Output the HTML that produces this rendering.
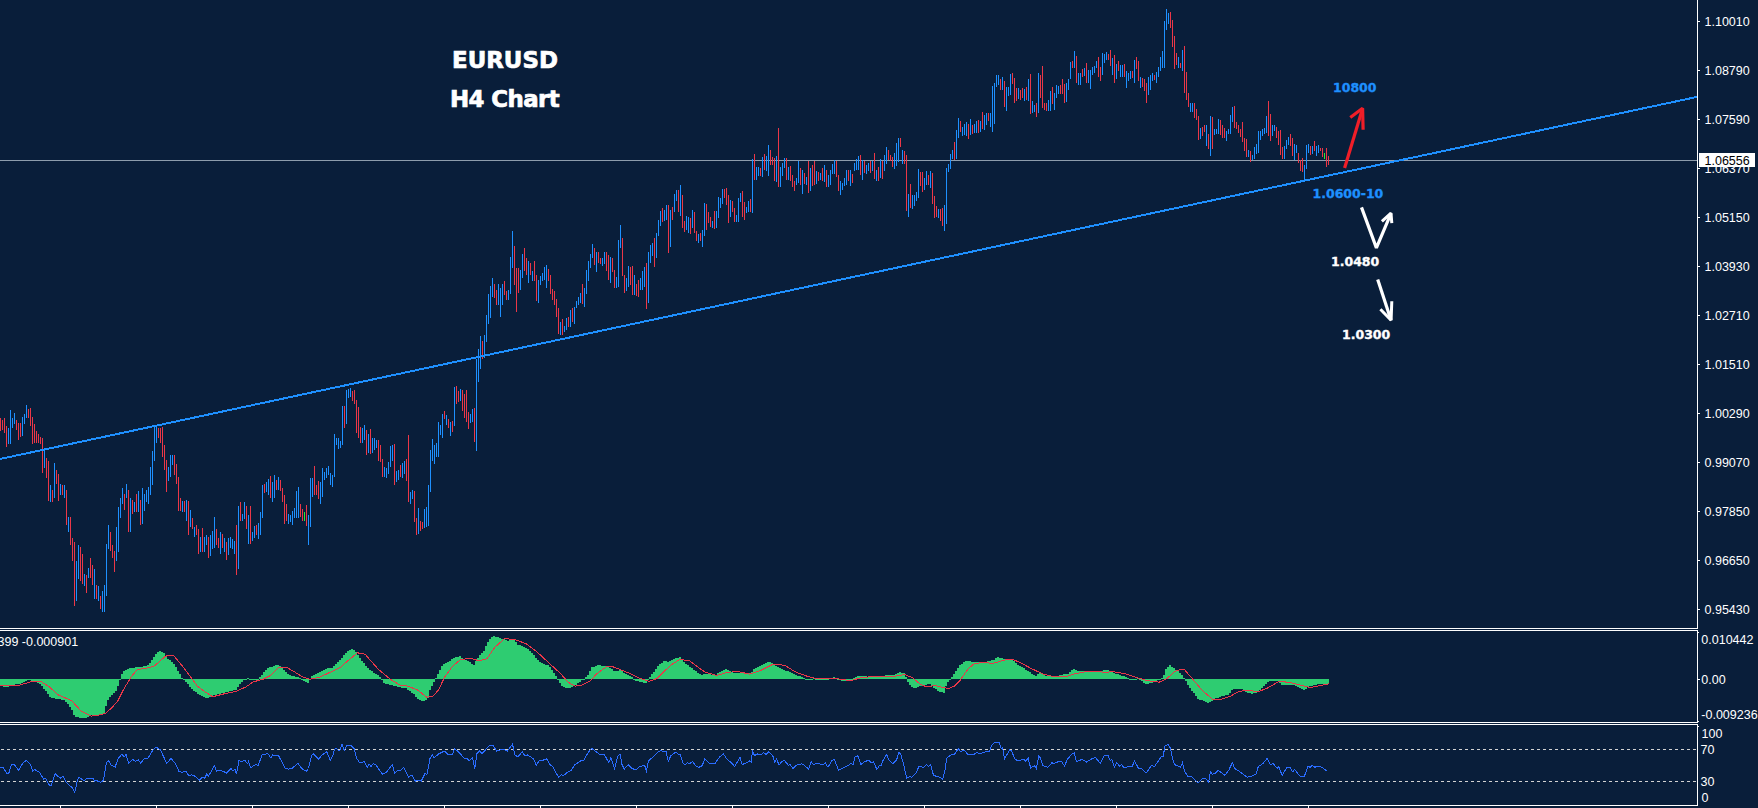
<!DOCTYPE html><html><head><meta charset="utf-8"><title>EURUSD H4 Chart</title><style>
html,body{margin:0;padding:0;background:#091E3A;}
#c{position:relative;width:1758px;height:808px;overflow:hidden;background:#091E3A;}
.a{position:absolute;font-family:"Liberation Sans",sans-serif;font-size:12.5px;line-height:14px;height:14px;color:#FFFFFF;white-space:nowrap;}
.k{color:#000;}
.t{position:absolute;font-family:"DejaVu Sans","Liberation Sans",sans-serif;font-weight:bold;white-space:nowrap;color:#fff;}
.t1{font-size:22.9px;line-height:28px;-webkit-text-stroke:0.7px currentColor;}
.t2{font-size:12.5px;line-height:14px;-webkit-text-stroke:0.35px currentColor;}

</style></head><body><div id="c">
<svg width="1758" height="808" viewBox="0 0 1758 808" style="position:absolute;left:0;top:0">
<rect width="1758" height="808" fill="#091E3A"/>
<g shape-rendering="crispEdges">
<path d="M0 160.5H1697" stroke="#8E9DAD" stroke-width="1" fill="none"/>
<path d="M8.5 428v16M10.5 410v34M12.5 418v10M14.5 413v11M22.5 417v19M24.5 414v10M26.5 405v13M44.5 450v18M50.5 485v17M54.5 463v35M60.5 484v11M64.5 485v13M68.5 517v15M76.5 561v40M78.5 545v34M84.5 574v12M88.5 568v10M94.5 569v30M98.5 586v15M102.5 591v21M104.5 585v27M106.5 544v52M108.5 525v24M116.5 527v34M118.5 507v45M120.5 498v20M122.5 488v16M126.5 484v14M130.5 498v34M134.5 502v10M138.5 491v21M142.5 488v36M144.5 494v17M146.5 490v12M148.5 487v17M150.5 467v28M152.5 451v34M154.5 427v34M156.5 426v17M168.5 467v14M170.5 455v22M172.5 455v10M182.5 501v11M186.5 500v21M190.5 510v17M194.5 527v10M200.5 537v15M204.5 537v15M206.5 535v10M210.5 535v21M212.5 531v18M214.5 517v31M220.5 532v22M224.5 538v14M228.5 538v17M230.5 537v11M232.5 539v10M234.5 541v13M238.5 506v63M242.5 514v7M244.5 502v17M248.5 515v29M252.5 532v9M254.5 526v12M258.5 523v16M260.5 512v23M262.5 485v33M266.5 482v10M268.5 479v16M272.5 482v20M274.5 475v23M278.5 477v13M288.5 514v10M290.5 515v7M292.5 511v14M294.5 508v10M296.5 491v27M298.5 487v31M308.5 515v30M310.5 478v49M312.5 478v19M320.5 482v22M322.5 468v29M324.5 472v8M326.5 468v10M328.5 466v9M330.5 473v12M332.5 475v12M334.5 434v43M336.5 438v7M338.5 438v11M340.5 441v7M342.5 406v39M346.5 390v34M348.5 389v9M350.5 388v9M362.5 428v15M364.5 425v15M368.5 434v19M372.5 438v15M374.5 438v12M376.5 440v8M384.5 467v10M386.5 468v10M388.5 462v12M390.5 446v21M392.5 445v16M396.5 471v11M398.5 470v10M402.5 463v15M404.5 461v13M410.5 492v12M412.5 490v9M418.5 508v26M424.5 509v19M426.5 507v20M428.5 485v41M430.5 450v42M432.5 439v22M434.5 445v19M436.5 443v14M438.5 422v35M440.5 425v10M442.5 414v24M446.5 415v10M450.5 422v14M454.5 387v39M460.5 389v12M470.5 414v9M472.5 409v13M476.5 359v92M478.5 349v33M480.5 336v33M484.5 335v23M486.5 315v27M488.5 294v30M490.5 286v32M492.5 278v19M498.5 284v21M500.5 288v29M502.5 284v21M508.5 290v10M510.5 257v37M512.5 231v37M520.5 270v20M522.5 254v24M528.5 261v22M532.5 271v10M538.5 280v23M540.5 276v9M542.5 273v8M544.5 267v13M546.5 265v23M560.5 322v13M564.5 326v6M566.5 318v12M570.5 310v17M574.5 307v17M576.5 301v7M578.5 297v8M580.5 293v10M584.5 288v19M586.5 270v24M588.5 261v20M590.5 254v14M592.5 244v14M596.5 252v20M602.5 258v8M604.5 252v12M610.5 257v26M616.5 277v11M618.5 240v47M620.5 225v23M626.5 278v13M628.5 266v21M634.5 275v20M640.5 278v12M642.5 271v19M644.5 267v20M648.5 252v51M650.5 245v18M652.5 243v13M656.5 233v25M658.5 220v16M660.5 211v15M664.5 210v11M666.5 205v15M670.5 210v37M674.5 194v18M676.5 190v11M680.5 185v31M686.5 216v14M688.5 217v16M692.5 210v18M698.5 234v9M702.5 230v17M704.5 203v33M712.5 221v7M716.5 211v17M718.5 197v21M720.5 198v10M722.5 189v15M730.5 200v17M736.5 215v7M738.5 198v24M740.5 193v9M746.5 207v6M748.5 201v11M752.5 159v54M756.5 167v13M758.5 167v9M762.5 157v20M766.5 156v15M768.5 145v31M776.5 156v26M780.5 167v20M782.5 163v13M784.5 158v10M788.5 167v13M796.5 178v7M798.5 161v22M802.5 170v24M806.5 177v8M810.5 168v23M816.5 171v13M820.5 173v7M824.5 165v17M828.5 175v12M830.5 170v15M832.5 164v10M834.5 160v14M840.5 181v14M842.5 183v7M844.5 178v8M846.5 170v15M850.5 170v16M854.5 163v8M856.5 159v11M858.5 156v14M862.5 160v20M866.5 165v9M868.5 163v8M872.5 161v10M876.5 170v11M880.5 159v19M884.5 155v16M886.5 147v17M894.5 153v16M896.5 143v23M898.5 138v24M902.5 150v14M908.5 194v23M912.5 195v14M914.5 195v11M916.5 192v9M918.5 169v29M924.5 178v12M926.5 171v14M930.5 171v17M938.5 209v9M944.5 205v26M946.5 168v56M948.5 164v8M950.5 154v15M952.5 150v9M956.5 130v29M958.5 118v20M962.5 127v9M964.5 124v11M966.5 122v14M970.5 119v16M974.5 124v9M976.5 121v12M980.5 121v11M984.5 115v15M986.5 113v12M990.5 113v14M992.5 86v46M994.5 83v41M996.5 75v12M998.5 75v10M1002.5 77v13M1006.5 87v24M1008.5 87v9M1010.5 74v21M1018.5 88v11M1024.5 89v12M1028.5 79v22M1032.5 101v12M1034.5 105v7M1038.5 73v40M1048.5 100v11M1050.5 91v20M1054.5 93v17M1056.5 85v13M1058.5 86v8M1066.5 83v19M1068.5 79v11M1070.5 62v17M1074.5 51v17M1078.5 73v12M1080.5 73v12M1084.5 68v8M1088.5 70v13M1090.5 70v19M1092.5 67v8M1094.5 66v7M1096.5 61v7M1102.5 53v22M1104.5 54v9M1106.5 52v8M1112.5 58v17M1116.5 64v15M1120.5 65v12M1122.5 65v12M1126.5 71v17M1128.5 73v8M1130.5 71v8M1134.5 60v23M1140.5 77v11M1148.5 77v18M1150.5 75v15M1152.5 73v8M1156.5 72v11M1158.5 67v10M1160.5 57v14M1162.5 51v17M1164.5 21v47M1166.5 9v21M1168.5 13v11M1178.5 57v11M1182.5 50v21M1190.5 103v9M1192.5 103v9M1200.5 128v11M1206.5 125v21M1210.5 116v40M1214.5 129v6M1216.5 129v5M1218.5 119v15M1226.5 131v10M1228.5 129v5M1230.5 115v19M1232.5 107v15M1248.5 150v7M1252.5 155v5M1254.5 147v12M1256.5 144v10M1258.5 131v22M1260.5 131v9M1262.5 129v7M1264.5 128v6M1266.5 116v17M1272.5 125v11M1274.5 125v6M1284.5 146v13M1286.5 140v9M1288.5 137v8M1294.5 144v16M1296.5 145v8M1304.5 165v15M1306.5 145v24M1308.5 144v9M1312.5 146v8M1316.5 146v10M1318.5 145v8" stroke="#1E90FF" stroke-width="1" fill="none"/>
<path d="M0.5 418v13M2.5 420v10M4.5 418v15M6.5 426v21M16.5 420v10M18.5 423v17M20.5 423v14M28.5 409v9M30.5 408v18M32.5 417v27M34.5 424v19M36.5 431v12M38.5 434v9M40.5 437v7M42.5 438v35M46.5 458v20M48.5 461v40M52.5 490v12M56.5 470v14M58.5 474v27M62.5 485v10M66.5 490v35M70.5 517v28M72.5 538v23M74.5 542v64M80.5 547v34M82.5 554v30M86.5 575v18M90.5 558v20M92.5 565v20M96.5 585v14M100.5 596v13M110.5 532v19M112.5 545v13M114.5 551v21M124.5 494v16M128.5 490v42M132.5 500v14M136.5 494v18M140.5 500v25M158.5 428v10M160.5 428v15M162.5 427v30M164.5 445v25M166.5 460v32M174.5 455v20M176.5 464v20M178.5 477v34M180.5 498v13M184.5 501v11M188.5 501v34M192.5 518v11M196.5 525v10M198.5 529v25M202.5 528v24M208.5 537v21M216.5 529v16M218.5 538v10M222.5 534v14M226.5 542v18M236.5 525v50M240.5 502v19M246.5 506v23M250.5 506v38M256.5 525v10M264.5 484v9M270.5 476v22M276.5 480v10M280.5 480v11M282.5 488v14M284.5 495v29M286.5 504v17M300.5 504v13M302.5 509v12M306.5 505v21M314.5 466v29M316.5 485v10M318.5 481v18M344.5 406v22M352.5 391v10M354.5 390v14M356.5 400v33M358.5 407v31M360.5 427v16M366.5 430v25M370.5 429v25M378.5 440v21M380.5 445v17M382.5 459v18M394.5 444v41M400.5 465v12M406.5 459v22M408.5 435v67M414.5 491v31M416.5 518v17M420.5 521v10M422.5 522v7M444.5 411v8M448.5 419v9M452.5 421v11M456.5 386v18M458.5 391v11M462.5 390v21M464.5 394v24M466.5 390v32M468.5 412v17M474.5 408v34M482.5 341v18M494.5 284v14M496.5 290v15M504.5 281v14M506.5 291v9M514.5 246v39M516.5 268v44M518.5 268v25M524.5 248v23M526.5 258v17M530.5 263v12M534.5 261v20M536.5 275v26M548.5 269v12M550.5 275v19M552.5 289v11M554.5 291v14M556.5 299v18M558.5 308v26M562.5 319v16M568.5 317v10M572.5 308v14M582.5 284v20M594.5 248v17M598.5 252v11M600.5 258v6M606.5 252v19M608.5 255v25M612.5 258v14M614.5 270v18M622.5 238v38M624.5 275v18M630.5 267v18M632.5 266v29M636.5 284v12M638.5 280v17M646.5 263v46M654.5 238v29M662.5 208v14M668.5 205v48M672.5 207v13M678.5 190v22M682.5 195v33M684.5 221v11M690.5 218v16M694.5 212v21M696.5 231v10M700.5 233v8M706.5 204v26M708.5 212v11M710.5 217v10M714.5 211v18M724.5 189v9M726.5 188v17M728.5 195v28M732.5 201v11M734.5 208v14M742.5 191v26M744.5 202v18M750.5 199v13M754.5 154v26M760.5 168v8M764.5 154v16M770.5 150v15M772.5 157v8M774.5 158v23M778.5 128v59M786.5 158v22M790.5 166v15M792.5 175v12M794.5 181v10M800.5 168v17M804.5 173v11M808.5 161v32M812.5 165v21M814.5 161v24M818.5 172v9M822.5 168v13M826.5 170v17M836.5 161v16M838.5 175v16M848.5 170v11M852.5 174v9M860.5 155v20M864.5 161v12M870.5 161v12M874.5 153v26M878.5 167v14M882.5 161v18M888.5 150v10M890.5 155v6M892.5 157v10M900.5 138v9M904.5 151v13M906.5 155v56M910.5 184v24M920.5 172v14M922.5 172v20M928.5 175v10M932.5 173v31M934.5 196v22M936.5 206v11M940.5 209v12M942.5 208v18M954.5 142v18M960.5 121v11M968.5 124v15M972.5 125v9M978.5 120v13M982.5 112v17M988.5 113v8M1000.5 79v11M1004.5 81v26M1012.5 73v11M1014.5 78v25M1016.5 88v13M1020.5 90v10M1022.5 88v10M1026.5 87v13M1030.5 74v40M1036.5 103v14M1040.5 75v23M1042.5 66v42M1044.5 103v7M1046.5 103v8M1052.5 87v17M1060.5 85v9M1062.5 79v15M1064.5 84v19M1072.5 61v7M1076.5 56v27M1082.5 69v8M1086.5 63v20M1098.5 57v20M1100.5 67v14M1108.5 54v6M1110.5 50v16M1114.5 55v28M1118.5 61v10M1124.5 64v13M1132.5 71v7M1136.5 57v12M1138.5 61v20M1142.5 78v9M1144.5 79v12M1146.5 83v20M1154.5 75v5M1170.5 12v16M1172.5 20v27M1174.5 36v33M1176.5 53v12M1180.5 63v5M1184.5 46v47M1186.5 72v28M1188.5 93v14M1194.5 103v15M1196.5 109v11M1198.5 116v24M1202.5 127v9M1204.5 125v7M1208.5 134v15M1212.5 117v32M1220.5 120v15M1222.5 125v13M1224.5 128v10M1234.5 106v22M1236.5 122v7M1238.5 125v8M1240.5 129v8M1242.5 122v20M1244.5 138v13M1246.5 139v18M1250.5 151v11M1268.5 101v35M1270.5 114v27M1276.5 127v11M1278.5 131v14M1280.5 130v25M1282.5 147v12M1290.5 134v12M1292.5 138v18M1298.5 153v10M1300.5 160v11M1302.5 158v14M1310.5 146v9M1314.5 141v10M1320.5 148v3M1322.5 148v9M1326.5 148v19M1328.5 156v9" stroke="#EB3748" stroke-width="1" fill="none"/>
<path d="M304.5 512v9M1324.5 153v6" stroke="#32E632" stroke-width="1" fill="none"/>
<path d="M0 459L1697 96.9" stroke="#1E90FF" stroke-width="2" fill="none"/>
<path d="M-1 679h2v7h-2zM1 679h2v7h-2zM3 679h2v8h-2zM5 679h2v8h-2zM7 679h2v8h-2zM9 679h2v6h-2zM11 679h2v6h-2zM13 679h2v6h-2zM15 679h2v5h-2zM17 679h2v5h-2zM19 679h2v5h-2zM21 679h2v4h-2zM23 679h2v3h-2zM25 679h2v2h-2zM27 679h2v1h-2zM29 679h2v1h-2zM31 679h2v2h-2zM33 679h2v3h-2zM35 679h2v3h-2zM37 679h2v4h-2zM39 679h2v5h-2zM41 679h2v7h-2zM43 679h2v10h-2zM45 679h2v12h-2zM47 679h2v15h-2zM49 679h2v18h-2zM51 679h2v19h-2zM53 679h2v19h-2zM55 679h2v20h-2zM57 679h2v20h-2zM59 679h2v20h-2zM61 679h2v21h-2zM63 679h2v21h-2zM65 679h2v23h-2zM67 679h2v25h-2zM69 679h2v28h-2zM71 679h2v31h-2zM73 679h2v36h-2zM75 679h2v38h-2zM77 679h2v38h-2zM79 679h2v39h-2zM81 679h2v39h-2zM83 679h2v39h-2zM85 679h2v39h-2zM87 679h2v38h-2zM89 679h2v37h-2zM91 679h2v36h-2zM93 679h2v36h-2zM95 679h2v36h-2zM97 679h2v36h-2zM99 679h2v35h-2zM101 679h2v35h-2zM103 679h2v34h-2zM105 679h2v27h-2zM107 679h2v21h-2zM109 679h2v18h-2zM111 679h2v16h-2zM113 679h2v14h-2zM115 679h2v12h-2zM117 679h2v7h-2zM119 679h2v1h-2zM121 674h2v5h-2zM123 671h2v8h-2zM125 670h2v9h-2zM127 669h2v10h-2zM129 668h2v11h-2zM131 668h2v11h-2zM133 668h2v11h-2zM135 667h2v12h-2zM137 667h2v12h-2zM139 667h2v12h-2zM141 667h2v12h-2zM143 666h2v13h-2zM145 666h2v13h-2zM147 665h2v14h-2zM149 663h2v16h-2zM151 660h2v19h-2zM153 657h2v22h-2zM155 654h2v25h-2zM157 652h2v27h-2zM159 651h2v28h-2zM161 652h2v27h-2zM163 653h2v26h-2zM165 656h2v23h-2zM167 659h2v20h-2zM169 660h2v19h-2zM171 662h2v17h-2zM173 664h2v15h-2zM175 667h2v12h-2zM177 671h2v8h-2zM179 674h2v5h-2zM181 678h2v1h-2zM183 679h2v1h-2zM185 679h2v3h-2zM187 679h2v5h-2zM189 679h2v8h-2zM191 679h2v10h-2zM193 679h2v12h-2zM195 679h2v13h-2zM197 679h2v15h-2zM199 679h2v16h-2zM201 679h2v17h-2zM203 679h2v18h-2zM205 679h2v19h-2zM207 679h2v19h-2zM209 679h2v18h-2zM211 679h2v17h-2zM213 679h2v16h-2zM215 679h2v16h-2zM217 679h2v15h-2zM219 679h2v15h-2zM221 679h2v14h-2zM223 679h2v14h-2zM225 679h2v13h-2zM227 679h2v13h-2zM229 679h2v12h-2zM231 679h2v12h-2zM233 679h2v11h-2zM235 679h2v11h-2zM237 679h2v8h-2zM239 679h2v5h-2zM241 679h2v3h-2zM243 679h2v1h-2zM245 679h2v1h-2zM247 678h2v1h-2zM249 679h2v1h-2zM251 679h2v1h-2zM253 679h2v1h-2zM255 679h2v1h-2zM257 679h2v1h-2zM259 677h2v2h-2zM261 675h2v4h-2zM263 672h2v7h-2zM265 670h2v9h-2zM267 668h2v11h-2zM269 667h2v12h-2zM271 667h2v12h-2zM273 666h2v13h-2zM275 665h2v14h-2zM277 665h2v14h-2zM279 666h2v13h-2zM281 668h2v11h-2zM283 670h2v9h-2zM285 672h2v7h-2zM287 674h2v5h-2zM289 675h2v4h-2zM291 676h2v3h-2zM293 676h2v3h-2zM295 677h2v2h-2zM297 677h2v2h-2zM299 678h2v1h-2zM301 679h2v1h-2zM303 679h2v2h-2zM305 679h2v3h-2zM307 679h2v4h-2zM309 679h2v1h-2zM311 676h2v3h-2zM313 675h2v4h-2zM315 674h2v5h-2zM317 673h2v6h-2zM319 672h2v7h-2zM321 671h2v8h-2zM323 670h2v9h-2zM325 669h2v10h-2zM327 668h2v11h-2zM329 668h2v11h-2zM331 668h2v11h-2zM333 666h2v13h-2zM335 664h2v15h-2zM337 662h2v17h-2zM339 660h2v19h-2zM341 658h2v21h-2zM343 655h2v24h-2zM345 653h2v26h-2zM347 651h2v28h-2zM349 650h2v29h-2zM351 649h2v30h-2zM353 650h2v29h-2zM355 652h2v27h-2zM357 655h2v24h-2zM359 658h2v21h-2zM361 661h2v18h-2zM363 663h2v16h-2zM365 666h2v13h-2zM367 668h2v11h-2zM369 670h2v9h-2zM371 671h2v8h-2zM373 673h2v6h-2zM375 674h2v5h-2zM377 675h2v4h-2zM379 677h2v2h-2zM381 679h2v1h-2zM383 679h2v4h-2zM385 679h2v5h-2zM387 679h2v5h-2zM389 679h2v6h-2zM391 679h2v6h-2zM393 679h2v7h-2zM395 679h2v7h-2zM397 679h2v8h-2zM399 679h2v8h-2zM401 679h2v9h-2zM403 679h2v9h-2zM405 679h2v9h-2zM407 679h2v11h-2zM409 679h2v12h-2zM411 679h2v14h-2zM413 679h2v15h-2zM415 679h2v18h-2zM417 679h2v20h-2zM419 679h2v21h-2zM421 679h2v22h-2zM423 679h2v22h-2zM425 679h2v21h-2zM427 679h2v19h-2zM429 679h2v11h-2zM431 679h2v7h-2zM433 679h2v3h-2zM435 678h2v1h-2zM437 674h2v5h-2zM439 670h2v9h-2zM441 666h2v13h-2zM443 664h2v15h-2zM445 663h2v16h-2zM447 662h2v17h-2zM449 661h2v18h-2zM451 659h2v20h-2zM453 658h2v21h-2zM455 657h2v22h-2zM457 657h2v22h-2zM459 656h2v23h-2zM461 658h2v21h-2zM463 659h2v20h-2zM465 660h2v19h-2zM467 661h2v18h-2zM469 662h2v17h-2zM471 664h2v15h-2zM473 665h2v14h-2zM475 661h2v18h-2zM477 658h2v21h-2zM479 655h2v24h-2zM481 653h2v26h-2zM483 651h2v28h-2zM485 646h2v33h-2zM487 642h2v37h-2zM489 639h2v40h-2zM491 637h2v42h-2zM493 636h2v43h-2zM495 637h2v42h-2zM497 637h2v42h-2zM499 638h2v41h-2zM501 639h2v40h-2zM503 639h2v40h-2zM505 640h2v39h-2zM507 641h2v38h-2zM509 640h2v39h-2zM511 640h2v39h-2zM513 640h2v39h-2zM515 642h2v37h-2zM517 645h2v34h-2zM519 645h2v34h-2zM521 646h2v33h-2zM523 647h2v32h-2zM525 648h2v31h-2zM527 649h2v30h-2zM529 651h2v28h-2zM531 653h2v26h-2zM533 655h2v24h-2zM535 658h2v21h-2zM537 660h2v19h-2zM539 662h2v17h-2zM541 663h2v16h-2zM543 664h2v15h-2zM545 665h2v14h-2zM547 665h2v14h-2zM549 667h2v12h-2zM551 670h2v9h-2zM553 673h2v6h-2zM555 676h2v3h-2zM557 679h2v1h-2zM559 679h2v4h-2zM561 679h2v7h-2zM563 679h2v8h-2zM565 679h2v9h-2zM567 679h2v9h-2zM569 679h2v9h-2zM571 679h2v8h-2zM573 679h2v7h-2zM575 679h2v6h-2zM577 679h2v4h-2zM579 679h2v3h-2zM581 679h2v1h-2zM583 679h2v1h-2zM585 677h2v2h-2zM587 675h2v4h-2zM589 671h2v8h-2zM591 667h2v12h-2zM593 667h2v12h-2zM595 666h2v13h-2zM597 665h2v14h-2zM599 665h2v14h-2zM601 666h2v13h-2zM603 666h2v13h-2zM605 666h2v13h-2zM607 667h2v12h-2zM609 668h2v11h-2zM611 669h2v10h-2zM613 671h2v8h-2zM615 671h2v8h-2zM617 671h2v8h-2zM619 670h2v9h-2zM621 671h2v8h-2zM623 673h2v6h-2zM625 674h2v5h-2zM627 675h2v4h-2zM629 676h2v3h-2zM631 677h2v2h-2zM633 679h2v1h-2zM635 679h2v2h-2zM637 679h2v2h-2zM639 679h2v3h-2zM641 679h2v3h-2zM643 679h2v4h-2zM645 679h2v4h-2zM647 679h2v1h-2zM649 677h2v2h-2zM651 674h2v5h-2zM653 672h2v7h-2zM655 669h2v10h-2zM657 666h2v13h-2zM659 664h2v15h-2zM661 663h2v16h-2zM663 661h2v18h-2zM665 661h2v18h-2zM667 662h2v17h-2zM669 661h2v18h-2zM671 660h2v19h-2zM673 659h2v20h-2zM675 658h2v21h-2zM677 658h2v21h-2zM679 657h2v22h-2zM681 660h2v19h-2zM683 662h2v17h-2zM685 664h2v15h-2zM687 665h2v14h-2zM689 667h2v12h-2zM691 668h2v11h-2zM693 670h2v9h-2zM695 671h2v8h-2zM697 673h2v6h-2zM699 674h2v5h-2zM701 675h2v4h-2zM703 674h2v5h-2zM705 674h2v5h-2zM707 674h2v5h-2zM709 674h2v5h-2zM711 675h2v4h-2zM713 675h2v4h-2zM715 675h2v4h-2zM717 673h2v6h-2zM719 672h2v7h-2zM721 671h2v8h-2zM723 670h2v9h-2zM725 669h2v10h-2zM727 670h2v9h-2zM729 671h2v8h-2zM731 672h2v7h-2zM733 673h2v6h-2zM735 673h2v6h-2zM737 673h2v6h-2zM739 673h2v6h-2zM741 672h2v7h-2zM743 672h2v7h-2zM745 673h2v6h-2zM747 673h2v6h-2zM749 673h2v6h-2zM751 672h2v7h-2zM753 669h2v10h-2zM755 668h2v11h-2zM757 667h2v12h-2zM759 666h2v13h-2zM761 665h2v14h-2zM763 664h2v15h-2zM765 663h2v16h-2zM767 662h2v17h-2zM769 662h2v17h-2zM771 663h2v16h-2zM773 664h2v15h-2zM775 666h2v13h-2zM777 667h2v12h-2zM779 668h2v11h-2zM781 669h2v10h-2zM783 670h2v9h-2zM785 671h2v8h-2zM787 671h2v8h-2zM789 672h2v7h-2zM791 673h2v6h-2zM793 674h2v5h-2zM795 675h2v4h-2zM797 676h2v3h-2zM799 676h2v3h-2zM801 677h2v2h-2zM803 678h2v1h-2zM805 679h2v1h-2zM807 679h2v1h-2zM809 679h2v1h-2zM811 679h2v1h-2zM813 678h2v1h-2zM815 679h2v1h-2zM817 679h2v1h-2zM819 679h2v1h-2zM821 679h2v1h-2zM823 679h2v1h-2zM825 679h2v1h-2zM827 679h2v1h-2zM829 678h2v1h-2zM831 678h2v1h-2zM833 677h2v2h-2zM835 678h2v1h-2zM837 679h2v1h-2zM839 679h2v1h-2zM841 679h2v2h-2zM843 679h2v2h-2zM845 679h2v2h-2zM847 679h2v2h-2zM849 679h2v2h-2zM851 679h2v1h-2zM853 678h2v1h-2zM855 677h2v2h-2zM857 676h2v3h-2zM859 676h2v3h-2zM861 676h2v3h-2zM863 676h2v3h-2zM865 676h2v3h-2zM867 677h2v2h-2zM869 677h2v2h-2zM871 677h2v2h-2zM873 677h2v2h-2zM875 677h2v2h-2zM877 677h2v2h-2zM879 677h2v2h-2zM881 676h2v3h-2zM883 676h2v3h-2zM885 675h2v4h-2zM887 675h2v4h-2zM889 675h2v4h-2zM891 675h2v4h-2zM893 675h2v4h-2zM895 674h2v5h-2zM897 673h2v6h-2zM899 672h2v7h-2zM901 673h2v6h-2zM903 673h2v6h-2zM905 677h2v2h-2zM907 679h2v3h-2zM909 679h2v6h-2zM911 679h2v8h-2zM913 679h2v9h-2zM915 679h2v9h-2zM917 679h2v8h-2zM919 679h2v7h-2zM921 679h2v7h-2zM923 679h2v6h-2zM925 679h2v6h-2zM927 679h2v5h-2zM929 679h2v5h-2zM931 679h2v7h-2zM933 679h2v9h-2zM935 679h2v10h-2zM937 679h2v12h-2zM939 679h2v13h-2zM941 679h2v13h-2zM943 679h2v14h-2zM945 679h2v7h-2zM947 679h2v3h-2zM949 679h2v1h-2zM951 677h2v2h-2zM953 674h2v5h-2zM955 671h2v8h-2zM957 668h2v11h-2zM959 665h2v14h-2zM961 664h2v15h-2zM963 662h2v17h-2zM965 661h2v18h-2zM967 661h2v18h-2zM969 661h2v18h-2zM971 662h2v17h-2zM973 662h2v17h-2zM975 662h2v17h-2zM977 662h2v17h-2zM979 662h2v17h-2zM981 662h2v17h-2zM983 662h2v17h-2zM985 662h2v17h-2zM987 661h2v18h-2zM989 661h2v18h-2zM991 660h2v19h-2zM993 660h2v19h-2zM995 658h2v21h-2zM997 657h2v22h-2zM999 658h2v21h-2zM1001 658h2v21h-2zM1003 659h2v20h-2zM1005 659h2v20h-2zM1007 659h2v20h-2zM1009 660h2v19h-2zM1011 660h2v19h-2zM1013 661h2v18h-2zM1015 663h2v16h-2zM1017 665h2v14h-2zM1019 666h2v13h-2zM1021 667h2v12h-2zM1023 668h2v11h-2zM1025 670h2v9h-2zM1027 671h2v8h-2zM1029 672h2v7h-2zM1031 674h2v5h-2zM1033 675h2v4h-2zM1035 676h2v3h-2zM1037 674h2v5h-2zM1039 673h2v6h-2zM1041 674h2v5h-2zM1043 675h2v4h-2zM1045 676h2v3h-2zM1047 676h2v3h-2zM1049 676h2v3h-2zM1051 676h2v3h-2zM1053 676h2v3h-2zM1055 676h2v3h-2zM1057 676h2v3h-2zM1059 675h2v4h-2zM1061 675h2v4h-2zM1063 674h2v5h-2zM1065 674h2v5h-2zM1067 674h2v5h-2zM1069 672h2v7h-2zM1071 670h2v9h-2zM1073 669h2v10h-2zM1075 670h2v9h-2zM1077 671h2v8h-2zM1079 671h2v8h-2zM1081 671h2v8h-2zM1083 671h2v8h-2zM1085 672h2v7h-2zM1087 672h2v7h-2zM1089 672h2v7h-2zM1091 672h2v7h-2zM1093 672h2v7h-2zM1095 672h2v7h-2zM1097 671h2v8h-2zM1099 671h2v8h-2zM1101 671h2v8h-2zM1103 670h2v9h-2zM1105 670h2v9h-2zM1107 670h2v9h-2zM1109 671h2v8h-2zM1111 672h2v7h-2zM1113 673h2v6h-2zM1115 674h2v5h-2zM1117 674h2v5h-2zM1119 675h2v4h-2zM1121 676h2v3h-2zM1123 676h2v3h-2zM1125 677h2v2h-2zM1127 678h2v1h-2zM1129 679h2v1h-2zM1131 679h2v1h-2zM1133 679h2v1h-2zM1135 679h2v1h-2zM1137 678h2v1h-2zM1139 679h2v1h-2zM1141 679h2v2h-2zM1143 679h2v4h-2zM1145 679h2v5h-2zM1147 679h2v5h-2zM1149 679h2v4h-2zM1151 679h2v4h-2zM1153 679h2v3h-2zM1155 679h2v2h-2zM1157 679h2v1h-2zM1159 679h2v1h-2zM1161 678h2v1h-2zM1163 675h2v4h-2zM1165 669h2v10h-2zM1167 667h2v12h-2zM1169 665h2v14h-2zM1171 667h2v12h-2zM1173 668h2v11h-2zM1175 670h2v9h-2zM1177 671h2v8h-2zM1179 673h2v6h-2zM1181 675h2v4h-2zM1183 678h2v1h-2zM1185 679h2v2h-2zM1187 679h2v6h-2zM1189 679h2v9h-2zM1191 679h2v12h-2zM1193 679h2v14h-2zM1195 679h2v17h-2zM1197 679h2v20h-2zM1199 679h2v21h-2zM1201 679h2v21h-2zM1203 679h2v22h-2zM1205 679h2v23h-2zM1207 679h2v24h-2zM1209 679h2v23h-2zM1211 679h2v22h-2zM1213 679h2v20h-2zM1215 679h2v19h-2zM1217 679h2v19h-2zM1219 679h2v18h-2zM1221 679h2v17h-2zM1223 679h2v17h-2zM1225 679h2v16h-2zM1227 679h2v16h-2zM1229 679h2v14h-2zM1231 679h2v11h-2zM1233 679h2v10h-2zM1235 679h2v10h-2zM1237 679h2v10h-2zM1239 679h2v10h-2zM1241 679h2v10h-2zM1243 679h2v11h-2zM1245 679h2v13h-2zM1247 679h2v14h-2zM1249 679h2v14h-2zM1251 679h2v15h-2zM1253 679h2v14h-2zM1255 679h2v14h-2zM1257 679h2v13h-2zM1259 679h2v11h-2zM1261 679h2v9h-2zM1263 679h2v7h-2zM1265 679h2v5h-2zM1267 679h2v3h-2zM1269 679h2v2h-2zM1271 679h2v2h-2zM1273 679h2v2h-2zM1275 679h2v2h-2zM1277 679h2v2h-2zM1279 679h2v4h-2zM1281 679h2v6h-2zM1283 679h2v6h-2zM1285 679h2v6h-2zM1287 679h2v6h-2zM1289 679h2v6h-2zM1291 679h2v6h-2zM1293 679h2v6h-2zM1295 679h2v7h-2zM1297 679h2v8h-2zM1299 679h2v9h-2zM1301 679h2v10h-2zM1303 679h2v11h-2zM1305 679h2v10h-2zM1307 679h2v8h-2zM1309 679h2v7h-2zM1311 679h2v7h-2zM1313 679h2v6h-2zM1315 679h2v6h-2zM1317 679h2v5h-2zM1319 679h2v5h-2zM1321 679h2v5h-2zM1323 679h2v5h-2zM1325 679h2v5h-2zM1327 679h2v5h-2z" fill="#2ECC71"/>
<polyline points="0.0,685.7 19.3,685.1 30.9,681.8 40.6,681.3 48.4,686.1 58.0,694.8 71.6,700.6 81.2,711.2 90.9,716.1 98.6,715.1 105.4,713.5 112.2,707.4 118.0,700.6 123.8,689.0 131.5,676.4 137.3,669.6 148.9,667.7 154.7,665.8 164.4,657.1 168.3,655.1 173.1,655.1 179.9,662.9 189.5,675.4 197.3,686.1 205.0,691.9 212.7,696.7 224.3,693.8 235.9,691.5 245.6,687.1 253.4,681.8 263.0,679.3 270.8,675.4 278.5,667.7 286.2,667.1 294.0,671.6 301.7,676.4 309.4,679.3 319.1,677.4 328.8,672.9 340.0,667.7 347.7,660.9 357.4,652.8 365.1,654.2 370.9,660.9 378.7,669.6 390.3,679.3 400.0,685.1 407.7,686.1 417.4,690.0 427.0,697.3 432.8,696.1 438.6,690.0 444.4,677.4 452.2,666.7 459.9,660.0 467.6,658.4 473.4,659.0 479.2,660.9 487.0,658.6 494.7,647.4 504.4,638.7 514.1,639.3 525.7,643.5 537.3,652.2 548.9,662.9 560.5,673.5 568.2,682.2 575.0,686.1 581.8,685.1 589.5,681.3 597.2,673.5 606.9,666.4 612.7,666.7 620.4,669.6 630.1,673.5 639.8,678.4 649.4,681.3 657.2,678.4 664.9,670.6 672.7,663.8 680.0,659.4 689.7,660.9 697.4,666.7 705.1,672.2 716.7,675.4 728.4,672.2 738.0,671.6 749.6,674.1 761.2,670.2 772.8,664.4 784.4,665.2 796.0,672.2 807.6,676.4 815.4,678.4 834.7,678.4 844.4,679.9 852.1,680.3 859.9,678.0 873.4,676.4 885.0,676.8 896.6,676.0 904.3,674.5 912.1,677.4 919.8,683.8 925.6,686.5 935.3,685.7 943.0,687.6 948.8,688.4 954.6,686.1 960.4,679.9 968.2,668.7 974.0,663.8 981.7,662.5 993.3,663.3 1004.9,660.0 1012.7,659.4 1020.0,662.5 1031.6,668.7 1043.2,674.1 1054.8,676.8 1066.4,676.4 1076.1,673.5 1085.8,671.6 1099.3,671.6 1105.1,672.5 1112.8,671.6 1124.4,673.5 1136.0,677.4 1147.6,680.7 1159.2,682.2 1167.0,678.4 1174.7,671.6 1180.5,669.3 1184.4,669.6 1192.1,678.4 1201.8,690.0 1213.4,700.0 1221.1,699.2 1230.8,696.1 1238.5,691.5 1248.2,690.0 1257.9,691.9 1267.6,688.0 1279.2,681.3 1290.8,682.6 1300.4,685.1 1310.1,687.6 1319.8,685.7 1329.1,683.8" stroke="#EB3748" stroke-width="1" fill="none"/>
<path d="M-5 749.5H1697M-5 781.5H1697" stroke="#D2D2D2" stroke-width="1" stroke-dasharray="3 3" fill="none"/>
<polyline points="0.0,767.5 2.9,767.2 6.8,773.4 8.7,773.4 11.6,764.6 14.5,764.6 18.4,770.4 23.2,762.7 26.5,760.4 30.0,763.7 32.9,771.4 34.8,769.5 39.6,772.4 43.5,779.2 45.4,778.2 49.3,785.0 51.3,785.3 55.1,773.4 58.0,776.3 60.9,778.2 62.9,776.3 66.7,783.0 67.7,784.0 72.5,787.9 74.8,792.3 77.4,780.1 79.3,777.2 84.1,781.1 87.0,778.2 92.8,778.2 94.8,781.1 96.7,780.7 100.6,782.4 103.5,780.1 106.4,762.7 108.3,760.4 111.2,765.2 115.1,767.2 118.0,758.8 121.8,754.4 124.7,756.9 126.1,754.4 128.6,763.3 132.5,759.4 135.4,761.4 138.3,759.8 140.6,763.1 144.1,758.8 148.0,758.3 152.8,750.1 156.3,747.2 160.5,750.1 166.7,763.3 171.2,758.3 176.0,764.6 178.9,771.4 181.8,772.4 185.7,771.0 188.6,775.3 191.5,774.9 195.3,776.3 199.2,780.1 202.1,777.2 204.6,778.2 206.9,773.7 208.5,776.3 214.3,765.6 216.6,771.0 220.5,770.4 224.3,771.8 226.3,773.4 231.1,768.5 233.0,771.0 235.0,769.1 236.5,774.3 238.9,760.8 241.8,761.4 244.7,760.2 247.6,763.7 248.5,761.7 250.5,767.9 255.3,764.6 258.2,765.2 262.1,755.0 267.9,753.6 270.8,757.9 272.7,755.0 278.5,755.6 285.3,768.5 288.2,769.1 292.0,768.5 297.8,763.3 301.7,768.5 306.5,771.4 308.5,768.5 311.4,755.9 313.3,754.0 318.7,759.4 322.0,755.0 326.8,751.7 330.3,760.2 332.7,755.9 334.6,749.2 336.5,748.2 338.5,750.5 340.0,750.1 341.9,744.3 344.3,750.1 346.8,745.3 350.6,745.3 354.5,749.2 356.4,757.9 359.3,762.1 362.2,762.7 364.2,761.4 367.1,767.5 369.0,763.7 370.9,766.6 373.3,763.7 375.8,764.6 379.6,770.4 382.5,774.3 386.4,772.4 392.2,764.6 394.7,773.0 398.0,770.4 400.9,770.4 403.8,767.2 408.7,777.2 411.9,774.9 415.4,781.1 418.3,780.1 421.2,781.1 425.1,773.4 427.0,774.3 429.9,758.8 432.4,755.0 434.2,757.9 438.6,754.0 444.4,751.1 448.7,755.0 452.6,754.4 454.5,748.6 458.4,751.7 464.7,758.8 466.7,758.3 469.2,760.8 472.5,757.9 474.8,768.5 476.9,753.6 479.6,751.1 482.2,753.6 488.9,745.9 492.8,745.3 496.7,751.1 500.5,749.8 504.4,749.8 507.3,751.1 512.5,744.3 515.0,755.0 517.9,756.9 522.2,751.7 524.7,755.6 527.6,755.0 533.4,758.8 536.3,765.2 539.2,760.8 543.1,760.2 546.6,758.8 549.8,764.6 552.7,766.6 558.5,777.2 561.4,774.9 563.4,775.7 567.2,772.4 571.1,770.4 575.0,764.6 580.8,760.8 583.7,760.2 588.5,752.1 591.4,748.2 596.3,751.7 600.1,755.0 604.0,754.0 608.8,762.7 610.8,757.9 614.6,768.5 617.5,756.9 620.0,754.0 622.0,764.6 624.3,769.1 628.2,764.6 632.0,768.5 635.9,769.9 638.8,767.2 644.6,765.2 646.5,771.0 648.5,760.8 651.4,758.3 654.3,755.9 658.1,752.1 661.0,750.5 663.9,752.1 665.9,751.1 668.4,761.4 670.7,755.9 675.6,752.1 678.5,754.4 680.0,754.0 682.9,762.7 684.8,764.6 687.7,762.7 689.7,763.7 692.6,761.4 696.4,766.6 699.3,767.2 702.2,765.6 704.8,758.8 709.0,763.3 714.8,763.7 719.6,756.9 723.5,754.0 727.4,759.8 731.3,762.7 734.7,766.6 740.0,757.5 742.3,764.6 744.8,763.3 747.3,762.7 749.6,760.8 751.2,762.1 752.5,751.1 754.5,755.6 757.4,754.0 761.2,755.0 763.2,752.5 766.1,754.4 769.0,751.7 772.8,755.9 774.8,762.1 776.7,758.8 779.0,765.2 781.5,761.7 784.4,760.4 788.3,765.2 790.2,764.6 793.1,768.5 796.0,765.2 801.8,763.7 804.7,765.6 808.6,769.1 811.1,761.7 813.4,764.6 816.3,763.3 823.1,764.6 825.1,762.7 828.0,767.2 831.8,760.8 834.3,759.4 838.6,770.4 844.4,767.2 848.3,765.6 851.2,763.3 853.1,764.6 855.0,756.9 857.9,755.9 860.8,764.6 864.7,761.7 868.6,760.2 871.5,762.7 873.4,761.7 876.9,769.5 879.2,766.0 881.1,765.6 883.1,760.2 886.6,754.4 888.9,759.8 892.7,763.7 896.6,759.8 898.9,752.5 900.5,753.6 903.4,763.7 906.7,778.2 909.2,776.8 912.1,777.2 915.9,773.0 918.9,766.6 923.7,767.2 926.6,764.6 928.5,766.6 930.5,764.6 933.4,774.9 937.2,776.8 940.1,777.2 942.6,779.2 944.6,772.4 946.9,757.9 950.8,755.0 954.6,754.0 958.5,748.6 960.4,751.7 964.3,750.1 968.2,755.0 974.0,754.4 976.9,752.5 979.8,754.0 984.6,752.1 989.4,751.1 992.3,744.3 995.2,742.4 999.1,742.8 1001.0,748.2 1002.6,747.8 1004.5,758.8 1009.7,750.1 1011.7,751.1 1014.6,758.8 1017.5,760.8 1020.0,760.2 1023.9,759.4 1025.8,761.4 1028.1,757.9 1030.6,767.9 1034.5,765.6 1036.4,768.5 1038.8,756.3 1040.3,757.9 1042.8,765.6 1048.0,767.2 1051.9,762.7 1053.8,763.7 1058.7,761.4 1061.6,761.7 1064.5,766.0 1067.4,759.4 1071.3,754.4 1074.2,753.0 1076.5,761.7 1081.9,759.4 1086.7,762.1 1090.6,759.4 1095.4,757.5 1100.3,763.3 1104.1,755.9 1108.0,755.6 1110.5,760.8 1111.9,759.4 1114.4,767.2 1116.7,762.7 1119.6,766.0 1121.5,764.6 1124.4,767.9 1128.3,766.6 1132.2,766.6 1134.5,760.8 1138.9,769.1 1141.8,768.5 1146.1,773.0 1151.5,765.6 1154.4,766.6 1159.2,759.8 1161.2,756.9 1163.1,756.3 1165.1,745.9 1168.0,744.3 1170.5,748.2 1172.8,759.8 1174.7,764.6 1177.6,766.0 1180.5,767.2 1182.5,762.7 1184.4,771.0 1188.3,776.8 1191.2,776.3 1195.0,780.1 1197.9,783.0 1202.8,778.2 1205.7,778.8 1208.6,782.1 1210.5,771.8 1212.4,774.3 1215.3,773.4 1218.2,770.4 1225.0,775.3 1228.9,769.9 1232.4,762.7 1234.7,768.5 1239.5,771.4 1247.2,777.2 1251.1,776.3 1255.9,774.3 1258.3,766.6 1262.7,763.7 1267.2,758.3 1270.5,764.6 1273.4,763.7 1277.2,768.5 1278.8,766.6 1282.1,775.3 1286.9,767.5 1289.8,767.2 1292.7,771.8 1294.6,769.5 1300.4,776.8 1304.3,776.3 1308.2,766.0 1310.1,767.5 1312.0,765.6 1314.9,767.2 1318.8,766.0 1323.6,768.5 1327.5,771.4" stroke="#2A6CFF" stroke-width="1" fill="none"/>
<path d="M1697.5 0V629M0 628.5H1698M0 630.5H1698M1697.5 630V723M0 722.5H1698M0 724.5H1698M1697.5 724V806M0 805.5H1698M1698 21.5h2M1698 70.5h2M1698 119.5h2M1698 168.5h2M1698 217.5h2M1698 266.5h2M1698 315.5h2M1698 364.5h2M1698 413.5h2M1698 462.5h2M1698 511.5h2M1698 560.5h2M1698 609.5h2M1698 679.5h2M1698 632.5h1M1698 721.5h1M1698 726.5h1M60.5 806v2M156.5 806v2M252.5 806v2M348.5 806v2M444.5 806v2M540.5 806v2M636.5 806v2M732.5 806v2M828.5 806v2M924.5 806v2M1020.5 806v2M1116.5 806v2M1212.5 806v2M1308.5 806v2" stroke="#FFFFFF" stroke-width="1" fill="none"/>
<rect x="1699" y="153" width="56" height="14" fill="#FFFFFF"/>
</g>
<g fill="none" stroke-linecap="butt" stroke-linejoin="bevel">
<path d="M1344.6 168L1362.6 108.5" stroke="#F01E28" stroke-width="3.2"/>
<path d="M1350.3 117.5L1362.6 108.2L1363.1 129.8" stroke="#F01E28" stroke-width="3.2"/>
<path d="M1361.5 207.4L1376.4 247.9L1390.9 213.6" stroke="#FFFFFF" stroke-width="3.2"/>
<path d="M1381.9 221.4L1391 213.2L1391.8 223.2" stroke="#FFFFFF" stroke-width="3"/>
<path d="M1377.7 279.5L1391 320" stroke="#FFFFFF" stroke-width="3.2"/>
<path d="M1380.4 309.2L1391.1 320.2L1391.8 301.2" stroke="#FFFFFF" stroke-width="3"/>
</g>
</svg>
<div class="a" style="left:1704.5px;top:15px;">1.10010</div>
<div class="a" style="left:1704.5px;top:64px;">1.08790</div>
<div class="a" style="left:1704.5px;top:113px;">1.07590</div>
<div class="a" style="left:1704.5px;top:162px;">1.06370</div>
<div class="a" style="left:1704.5px;top:211px;">1.05150</div>
<div class="a" style="left:1704.5px;top:260px;">1.03930</div>
<div class="a" style="left:1704.5px;top:309px;">1.02710</div>
<div class="a" style="left:1704.5px;top:358px;">1.01510</div>
<div class="a" style="left:1704.5px;top:407px;">1.00290</div>
<div class="a" style="left:1704.5px;top:456px;">0.99070</div>
<div class="a" style="left:1704.5px;top:505px;">0.97850</div>
<div class="a" style="left:1704.5px;top:554px;">0.96650</div>
<div class="a" style="left:1704.5px;top:603px;">0.95430</div>
<div class="a k" style="left:1704.5px;top:153.5px;">1.06556</div>
<div class="a" style="left:1701.3px;top:632.5px;">0.010442</div>
<div class="a" style="left:1701.3px;top:672.5px;">0.00</div>
<div class="a" style="left:1701.3px;top:707.5px;">-0.009236</div>
<div class="a" style="left:1701.5px;top:726.5px;">100</div>
<div class="a" style="left:1700.5px;top:742.6px;">70</div>
<div class="a" style="left:1700.5px;top:774.5px;">30</div>
<div class="a" style="left:1701.5px;top:790.6px;">0</div>
<div class="a" style="left:-2.5px;top:635px;">399 -0.000901</div>
<div class="t t1" style="left:452px;top:45.5px;">EURUSD</div>
<div class="t t1" style="left:450px;top:84.5px;letter-spacing:-0.6px;">H4 Chart</div>
<div class="t t2" style="left:1333px;top:81px;color:#1E90FF;">10800</div>
<div class="t t2" style="left:1312.5px;top:187px;color:#1E90FF;">1.0600-10</div>
<div class="t t2" style="left:1331px;top:255px;">1.0480</div>
<div class="t t2" style="left:1342px;top:328px;">1.0300</div>
</div></body></html>
